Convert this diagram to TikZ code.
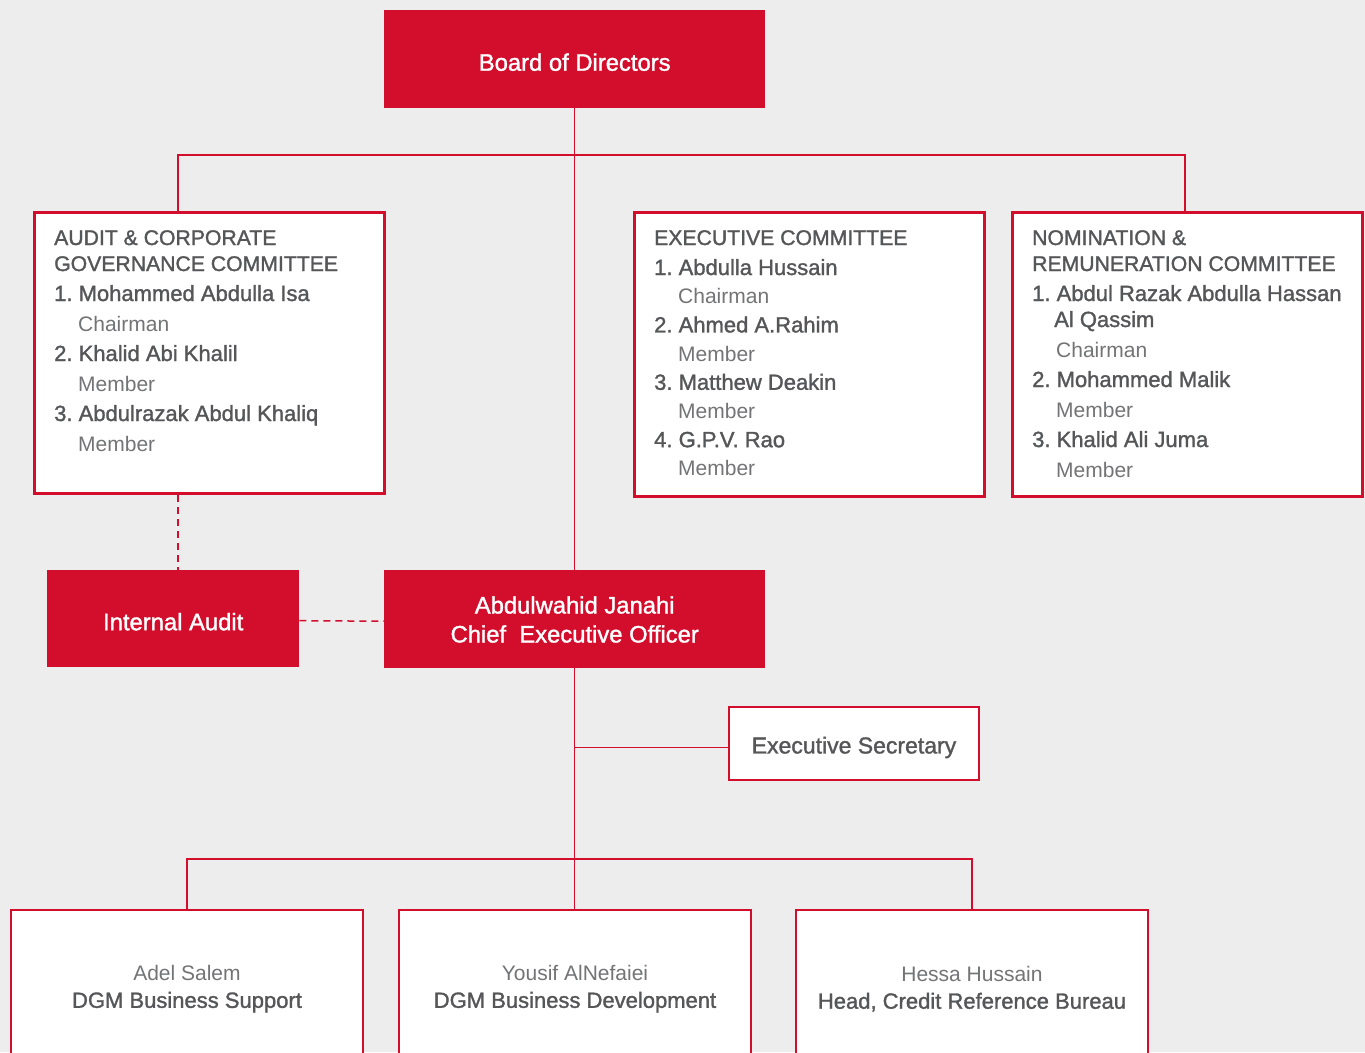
\documentclass[tikz,border=0pt]{standalone}
\usepackage{fontspec}
\setmainfont{Liberation Sans}
\newfontfamily\medf[FakeBold=1.4]{Liberation Sans}
\definecolor{bg}{HTML}{EDEDED}
\definecolor{brand}{HTML}{D30E2D}
\definecolor{txt}{HTML}{555658}
\definecolor{lite}{HTML}{737476}
\newcommand{\nm}[1]{{\medf\fontsize{22}{30}\selectfont #1}}
\newcommand{\hd}[1]{{\medf\fontsize{21.2}{30}\selectfont #1}}
\newcommand{\rl}[2][24pt]{{\color{lite}\fontsize{21}{30}\selectfont\hspace*{#1}#2}}
\newcommand{\dn}[2][3pt]{\raisebox{-#1}[\height][\depth]{#2}}
\frenchspacing
\begin{document}
\begin{tikzpicture}[x=1pt,y=-1pt,
  redbox/.style={rectangle, fill=brand, draw=none, text=white, align=center,
     font=\medf\fontsize{23.8}{29}\selectfont, inner sep=0pt},
  combox/.style={rectangle, draw=brand, line width=3pt, fill=white, anchor=north west, inner sep=0pt},
  thinbox/.style={rectangle, draw=brand, line width=2pt, fill=white, anchor=north west, inner sep=0pt,
     text=txt, align=center},
  comtext/.style={anchor=north west, inner sep=0pt, align=left, text=txt, font=\fontsize{22}{30}\selectfont},
  conn/.style={draw=brand, line width=1.5pt},
  dashline/.style={draw=brand, line width=1.5pt, dash pattern=on 7pt off 5pt}]
\path[use as bounding box] (0,0) rectangle (1365,1052);
\begin{scope}
\clip (0,0) rectangle (1365,1052);
\fill[bg] (0,0) rectangle (1365,1052);

% boxes
\node[redbox, minimum width=381pt, minimum height=98pt, anchor=north west] (board) at (384,10) {\dn{Board of Directors}};

\node[combox, minimum width=350pt, minimum height=281pt] (audit) at (33,211) {};
\node[combox, minimum width=350pt, minimum height=284pt] (exec) at (633,211) {};
\node[combox, minimum width=350pt, minimum height=284pt] (nom) at (1011,211) {};

\node[comtext] (audittxt) at (54,230) {%
\hd{AUDIT \& CORPORATE}\\[-4pt]
\hd{GOVERNANCE COMMITTEE}\\
\nm{1. Mohammed Abdulla Isa}\\
\rl{Chairman}\\
\nm{2. Khalid Abi Khalil}\\
\rl{Member}\\
\nm{3. Abdulrazak Abdul Khaliq}\\
\rl{Member}};

\node[comtext, font=\fontsize{22}{28.7}\selectfont] (exectxt) at (654,230) {%
\hd{EXECUTIVE COMMITTEE}\\[1.3pt]
\nm{1. Abdulla Hussain}\\
\rl{Chairman}\\
\nm{2. Ahmed A.Rahim}\\
\rl{Member}\\
\nm{3. Matthew Deakin}\\
\rl{Member}\\
\nm{4. G.P.V. Rao}\\
\rl{Member}};

\node[comtext] (nomtxt) at (1032,230) {%
\hd{NOMINATION \&}\\[-4pt]
\hd{REMUNERATION COMMITTEE}\\
\nm{1. Abdul Razak Abdulla Hassan}\\[-4pt]
\nm{\hspace*{22pt}Al Qassim}\\
\rl{Chairman}\\
\nm{2. Mohammed Malik}\\
\rl{Member}\\
\nm{3. Khalid Ali Juma}\\
\rl{Member}};

\node[redbox, minimum width=252pt, minimum height=97pt, anchor=north west] (ia) at (47,570) {\dn{Internal Audit}};
\node[redbox, minimum width=381pt, minimum height=98pt, anchor=north west] (ceo) at (384,570)
  {\dn{\begin{tabular}{@{}c@{}}Abdulwahid Janahi\\Chief\ \ Executive Officer\end{tabular}}};

\node[thinbox, minimum width=250pt, minimum height=73pt, font=\medf\fontsize{23}{28}\selectfont] (es) at (728,706) {\dn[4pt]{Executive Secretary}};

\node[thinbox, minimum width=352pt, minimum height=158pt, font=\fontsize{22}{27}\selectfont] (b1) at (10,909)
  {{\color{lite}\fontsize{21}{27}\selectfont Adel Salem}\\\medf DGM Business Support};
\node[thinbox, minimum width=352pt, minimum height=158pt, font=\fontsize{22}{27}\selectfont] (b2) at (398,909)
  {{\color{lite}\fontsize{21}{27}\selectfont Yousif AlNefaiei}\\\medf DGM Business Development};
\node[thinbox, minimum width=352pt, minimum height=158pt, font=\fontsize{22}{27}\selectfont] (b3) at (795,909)
  {{\color{lite}\fontsize{21}{27}\selectfont Hessa Hussain}\\\medf Head, Credit Reference Bureau};

% connectors
\coordinate (hl) at (178,155);
\coordinate (hr) at (1185,155);
\coordinate (bar) at (575,859);
\coordinate (esin) at ([yshift=-4pt]es.west);
\draw[conn] (board.south) -- (ceo.north);
\draw[conn] (audit.north -| hl) -- (hl) -- (hr) -- (nom.north -| hr);
\draw[conn] (exec.north -| 808,0) -- (exec.north -| 808,0 |- hl);
\draw[dashline] (audit.south -| hl) -- (ia.north -| hl);
\draw[dashline] ([yshift=-2pt]ia.east) -- ([yshift=-2pt]ceo.west);
\draw[conn] (ceo.south) -- (ceo.south |- b2.north);
\draw[conn] (ceo.south |- esin) -- (esin);
\draw[conn] (b1.north) |- (bar) -| (b3.north);
\end{scope}
\end{tikzpicture}
\end{document}
